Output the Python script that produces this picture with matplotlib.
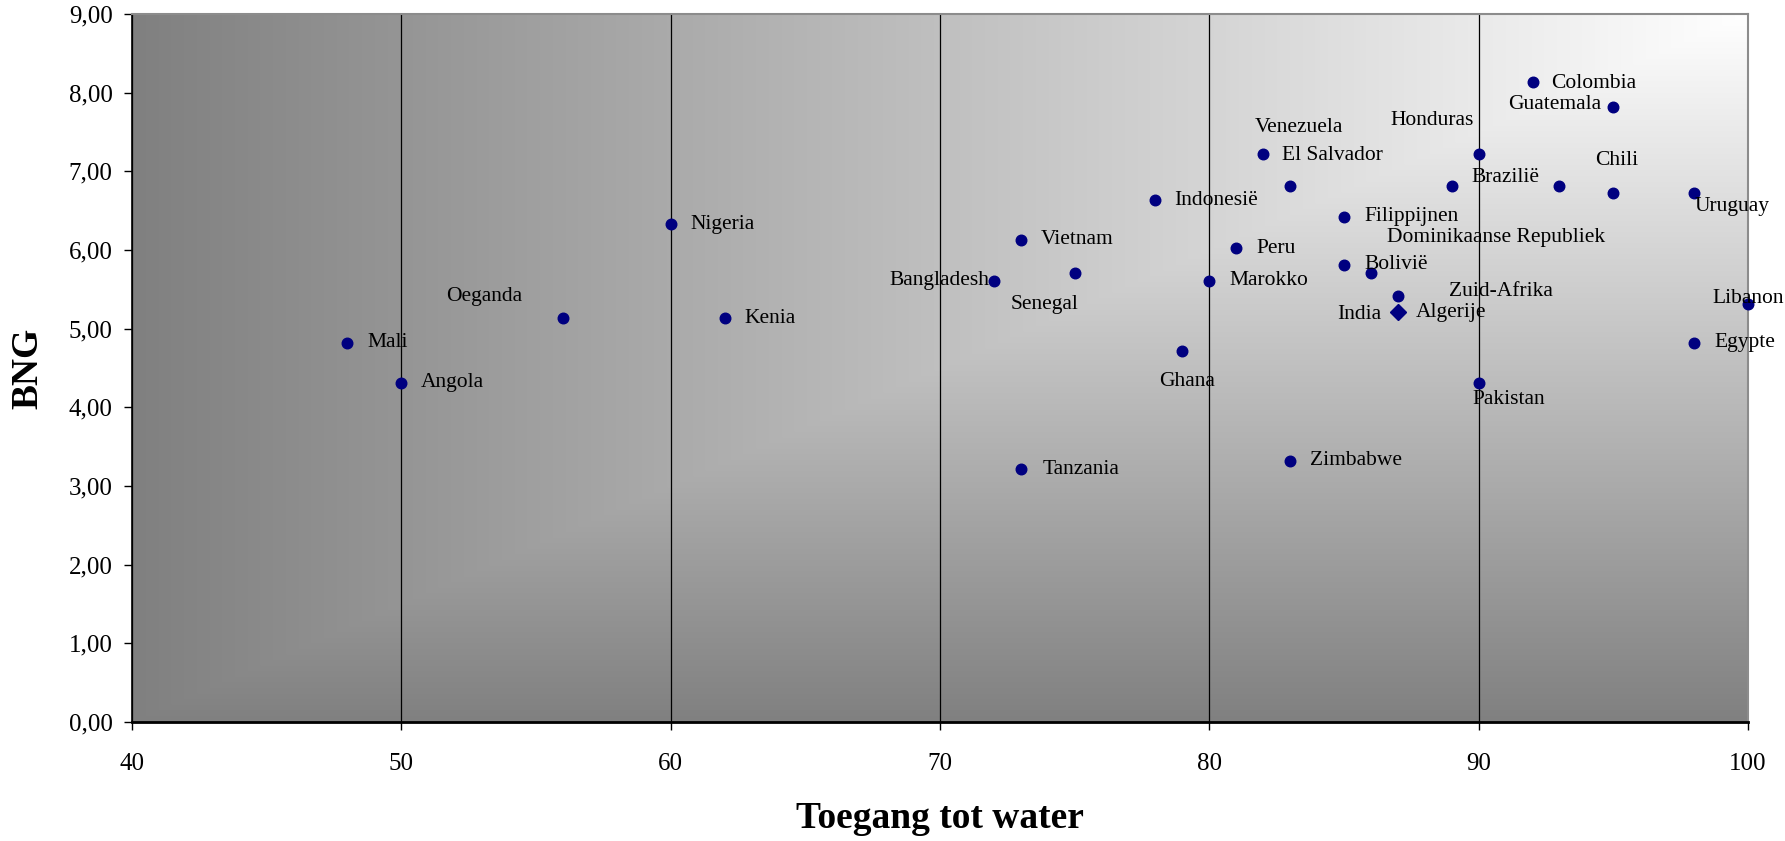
import numpy as np
import matplotlib
matplotlib.use("Agg")
import matplotlib.pyplot as plt

plt.rcParams['font.family'] = ['Liberation Serif', 'DejaVu Serif']

# ---- data ----
landen = ["Mali", "Angola", "Oeganda", "Nigeria", "Kenia", "Bangladesh", "Vietnam",
          "Senegal", "Tanzania", "Indonesië", "Ghana", "Marokko", "Peru", "El Salvador",
          "Venezuela", "Zimbabwe", "Filippijnen", "Bolivië", "India", "Zuid-Afrika",
          "Algerije", "Brazilië", "Honduras", "Pakistan", "Colombia",
          "Dominikaanse Republiek", "Guatemala", "Chili", "Uruguay", "Egypte", "Libanon"]
toegang = [48, 50, 56, 60, 62, 72, 73, 75, 73, 78, 79, 80, 81, 82, 83, 83, 85, 85, 86, 87,
           87, 89, 90, 90, 92, 93, 95, 95, 98, 98, 100]
bng = [4.82, 4.31, 5.13, 6.33, 5.13, 5.61, 6.13, 5.71, 3.22, 6.63, 4.72, 5.61, 6.02, 7.22,
       6.81, 3.32, 6.42, 5.81, 5.71, 5.41, 5.21, 6.81, 7.22, 4.31, 8.13, 6.81, 7.82, 6.73,
       6.73, 4.82, 5.31]
ruit_landen = ["Algerije"]

x_ticks = [40, 50, 60, 70, 80, 90, 100]
x_ticklabels = ["40", "50", "60", "70", "80", "90", "100"]
y_ticks = [0, 1, 2, 3, 4, 5, 6, 7, 8, 9]
y_ticklabels = ["0,00", "1,00", "2,00", "3,00", "4,00", "5,00", "6,00", "7,00", "8,00", "9,00"]

# label placement (pixel offsets: dx right, dy down; alignment)
label_pos = {
    "Mali": (20, 0, "left"), "Angola": (19, 0, "left"), "Oeganda": (-41, -22, "right"),
    "Nigeria": (20, 0, "left"), "Kenia": (20, 0, "left"), "Bangladesh": (-4, 0, "right"),
    "Vietnam": (20, 0, "left"), "Senegal": (-30, 32, "center"), "Tanzania": (22, 1, "left"),
    "Indonesië": (19, 0, "left"), "Ghana": (5, 31, "center"), "Marokko": (20, 0, "left"),
    "Peru": (20, 0, "left"), "El Salvador": (19, 1, "left"), "Venezuela": (9, -59, "center"),
    "Zimbabwe": (20, 0, "left"), "Filippijnen": (20, 0, "left"), "Bolivië": (20, 0, "left"),
    "India": (10, 42, "right"), "Zuid-Afrika": (51, -5, "left"), "Algerije": (18, 0, "left"),
    "Brazilië": (20, -9, "left"), "Honduras": (-5, -34, "right"), "Pakistan": (-6, 17, "left"),
    "Colombia": (19, 1, "left"), "Dominikaanse Republiek": (-63, 51, "center"),
    "Guatemala": (-12, -2, "right"), "Chili": (3, -32, "center"), "Uruguay": (0, 14, "left"),
    "Egypte": (20, 0, "left"), "Libanon": (0, -6, "center"),
}

W, H = 1785, 841
fig = plt.figure(figsize=(W / 100, H / 100), dpi=100)
L, R, T, B = 132, 1748, 14, 722
ax = fig.add_axes([L / W, 1 - B / H, (R - L) / W, (B - T) / H])

ax.set_xlim(40, 100)
ax.set_ylim(0, 9)

# background: "from corner" gradient (white at top-right, grey at left/bottom)
n = 600
u = np.linspace(1, 0, n)[None, :]            # distance from right edge
v = np.linspace(0, 1, n)[:, None]            # distance from top edge (row 0 = top)
t = np.maximum(u, v)
g = (255 - 127 * t) / 255.0
img = np.dstack([g, g, g])
ax.imshow(img, extent=[40, 100, 0, 9], aspect='auto', origin='upper', zorder=0,
          interpolation='bilinear')

# vertical gridlines
ax.set_xticks(x_ticks)
ax.set_xticklabels(x_ticklabels)
ax.set_yticks(y_ticks)
ax.set_yticklabels(y_ticklabels)
ax.xaxis.grid(True, color='black', linewidth=0.9)
ax.yaxis.grid(False)
ax.set_axisbelow(True)
for gl in ax.get_xgridlines():
    gl.set_zorder(1)

ax.tick_params(axis='both', direction='out', length=6, width=1, color='black',
               labelsize=18, colors='black')
ax.tick_params(axis='x', pad=16)
ax.tick_params(axis='y', pad=8)

for s in ['top', 'right']:
    ax.spines[s].set_color('#8c8c8c')
    ax.spines[s].set_linewidth(1.5)
ax.spines['left'].set_color('black')
ax.spines['left'].set_linewidth(1.2)
ax.spines['bottom'].set_color('black')
ax.spines['bottom'].set_linewidth(2)

# points
navy = '#000080'
for naam, xv, yv in zip(landen, toegang, bng):
    mk = 'D' if naam in ruit_landen else 'o'
    ms = 8 if mk == 'D' else 7.6
    ax.plot([xv], [yv], marker=mk, markersize=ms, color=navy, markeredgecolor=navy,
            linestyle='none', zorder=4, clip_on=False)
    dx, dy, ha = label_pos[naam]
    ax.annotate(naam, (xv, yv), xytext=(dx, -dy), textcoords='offset pixels',
                ha=ha, va='center', fontsize=15.5, color='black', zorder=5,
                annotation_clip=False)

ax.set_xlabel("Toegang tot water", fontsize=27, fontweight='bold')
ax.xaxis.label.set_va('center')
ax.xaxis.set_label_coords(0.5, (B - 819) / (B - T))
ax.set_ylabel("BNG", fontsize=27, fontweight='bold')
ax.yaxis.label.set_va('center')
ax.yaxis.set_label_coords((28 - L) / (R - L), 0.5)

fig.savefig("out.png", dpi=100)
